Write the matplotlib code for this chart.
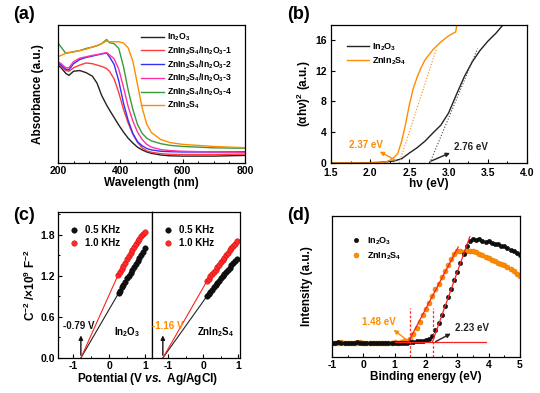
import numpy as np
import matplotlib
matplotlib.use("Agg")
import matplotlib.pyplot as plt
from matplotlib.ticker import MultipleLocator

plt.rcParams['font.family'] = ['Liberation Sans', 'DejaVu Sans']
plt.rcParams['font.weight'] = 'bold'
plt.rcParams['axes.labelweight'] = 'bold'
plt.rcParams['axes.unicode_minus'] = False
plt.rcParams['mathtext.fontset'] = 'custom'
plt.rcParams['mathtext.rm'] = 'Liberation Sans:bold'
plt.rcParams['mathtext.it'] = 'Liberation Sans:italic:bold'
plt.rcParams['mathtext.bf'] = 'Liberation Sans:bold'
plt.rcParams['mathtext.default'] = 'rm'

ORANGE = '#ff8c00'

# (a) UV-vis absorbance (arbitrary units)
wl = [200, 210, 225, 235, 250, 270, 290, 310, 325, 340, 356, 365, 380, 395,
      410, 425, 440, 455, 470, 485, 500, 530, 560, 600, 700, 800]
abs_in2o3 = [0.71, 0.69, 0.65, 0.635, 0.665, 0.67, 0.655, 0.63, 0.58, 0.49, 0.42, 0.385, 0.33, 0.275,
             0.225, 0.18, 0.145, 0.115, 0.095, 0.08, 0.07, 0.058, 0.052, 0.05, 0.05, 0.055]
abs_c1 = [0.72, 0.70, 0.67, 0.665, 0.69, 0.71, 0.725, 0.72, 0.71, 0.70, 0.685, 0.665, 0.61, 0.51,
          0.39, 0.29, 0.21, 0.15, 0.11, 0.088, 0.078, 0.068, 0.063, 0.062, 0.062, 0.065]
abs_c2 = [0.725, 0.71, 0.68, 0.675, 0.72, 0.75, 0.765, 0.775, 0.783, 0.79, 0.797, 0.77, 0.715, 0.595,
          0.435, 0.31, 0.215, 0.155, 0.125, 0.105, 0.095, 0.085, 0.082, 0.08, 0.08, 0.082]
abs_c3 = [0.735, 0.72, 0.69, 0.69, 0.735, 0.76, 0.77, 0.78, 0.785, 0.793, 0.80, 0.785, 0.755, 0.68,
          0.55, 0.41, 0.305, 0.225, 0.17, 0.135, 0.115, 0.097, 0.09, 0.085, 0.08, 0.078]
abs_c4 = [0.87, 0.84, 0.795, 0.80, 0.807, 0.815, 0.83, 0.84, 0.85, 0.865, 0.895, 0.872, 0.865, 0.83,
          0.70, 0.53, 0.39, 0.28, 0.215, 0.18, 0.16, 0.14, 0.128, 0.12, 0.11, 0.107]
abs_zis = [0.77, 0.78, 0.795, 0.80, 0.805, 0.815, 0.825, 0.84, 0.85, 0.865, 0.885, 0.879, 0.879, 0.879,
           0.87, 0.835, 0.74, 0.57, 0.40, 0.28, 0.22, 0.17, 0.148, 0.135, 0.12, 0.111]
labels_a = ['In$_2$O$_3$', 'ZnIn$_2$S$_4$/In$_2$O$_3$-1', 'ZnIn$_2$S$_4$/In$_2$O$_3$-2',
            'ZnIn$_2$S$_4$/In$_2$O$_3$-3', 'ZnIn$_2$S$_4$/In$_2$O$_3$-4', 'ZnIn$_2$S$_4$']
colors_a = ['#222222', '#ff3b3b', '#3030ff', '#ff30a0', '#3a9a3a', ORANGE]

# (b) Tauc plot
e_in2o3 = [1.5, 1.7, 1.9, 2.1, 2.2, 2.3, 2.4, 2.5, 2.6, 2.7, 2.8, 2.9, 3.0, 3.1, 3.2, 3.3, 3.4, 3.5, 3.6, 3.7]
t_in2o3 = [0.0, 0.0, 0.02, 0.08, 0.15, 0.25, 0.55, 1.3, 2.0, 2.85, 3.9, 4.9, 6.5, 8.9, 11.2, 13.1, 14.6, 15.8, 16.8, 18.0]
e_zis = [1.5, 1.7, 1.9, 2.1, 2.15, 2.2, 2.25, 2.3, 2.35, 2.4, 2.45, 2.5, 2.55, 2.6, 2.65, 2.7, 2.8, 2.9, 3.0, 3.07, 3.09, 3.11]
t_zis = [0.0, 0.0, 0.0, 0.02, 0.06, 0.15, 0.35, 0.7, 1.2, 2.8, 5.0, 7.6, 9.7, 11.2, 12.4, 13.4, 14.7, 15.7, 16.5, 16.9, 17.0, 18.3]
gap_in2o3 = 2.76
gap_zis = 2.37
tan_in2o3 = [(2.76, 0.0), (3.37, 14.85)]
tan_zis = [(2.37, 0.0), (2.84, 14.7)]

# (c) Mott-Schottky
v_l_05 = [0.27, 0.30, 0.35, 0.40, 0.45, 0.50, 0.55, 0.60, 0.65, 0.70, 0.75, 0.80, 0.85, 0.90, 0.95, 1.00]
c_l_05 = [0.95, 0.98, 1.03, 1.07, 1.115, 1.16, 1.20, 1.245, 1.29, 1.33, 1.37, 1.41, 1.46, 1.50, 1.55, 1.60]
v_l_10 = [0.25, 0.30, 0.35, 0.40, 0.45, 0.50, 0.55, 0.60, 0.65, 0.70, 0.75, 0.80, 0.85, 0.90, 0.95, 1.00]
c_l_10 = [1.21, 1.255, 1.30, 1.345, 1.39, 1.44, 1.485, 1.53, 1.575, 1.62, 1.665, 1.70, 1.74, 1.78, 1.81, 1.84]
v_r = [0.10, 0.15, 0.20, 0.25, 0.30, 0.35, 0.40, 0.45, 0.50, 0.55, 0.60, 0.65, 0.70, 0.75, 0.80, 0.85, 0.90, 0.95]
c_r_05 = [0.90, 0.935, 0.965, 0.995, 1.03, 1.06, 1.095, 1.125, 1.16, 1.19, 1.225, 1.255, 1.29, 1.32, 1.355, 1.385, 1.42, 1.45]
c_r_10 = [1.12, 1.155, 1.19, 1.225, 1.26, 1.29, 1.325, 1.36, 1.395, 1.43, 1.465, 1.50, 1.535, 1.57, 1.605, 1.635, 1.67, 1.70]
fb_in2o3 = -0.79
fb_zis = -1.16

# (d) VB-XPS
be = np.round(np.arange(-1.0, 5.01, 0.1), 1)
xps_in2o3 = [0.10, 0.10, 0.105, 0.10, 0.10, 0.10, 0.10, 0.10, 0.105, 0.10, 0.10, 0.10,
             0.10, 0.10, 0.10, 0.10, 0.10, 0.10, 0.10, 0.10, 0.10, 0.10, 0.10, 0.10,
             0.10, 0.105, 0.105, 0.11, 0.11, 0.115, 0.12, 0.13, 0.15, 0.19, 0.24, 0.30,
             0.36, 0.425, 0.485, 0.545, 0.605, 0.67, 0.73, 0.79, 0.825, 0.835, 0.83, 0.835,
             0.82, 0.815, 0.825, 0.81, 0.80, 0.80, 0.79, 0.785, 0.775, 0.76, 0.75, 0.735, 0.725]
xps_zis = [0.10, 0.10, 0.10, 0.105, 0.10, 0.10, 0.10, 0.10, 0.10, 0.105, 0.10, 0.10,
           0.10, 0.10, 0.10, 0.10, 0.10, 0.10, 0.10, 0.10, 0.105, 0.10, 0.105, 0.11,
           0.115, 0.13, 0.165, 0.205, 0.25, 0.295, 0.34, 0.385, 0.43, 0.48, 0.52, 0.565,
           0.61, 0.65, 0.695, 0.73, 0.755, 0.75, 0.745, 0.75, 0.755, 0.75, 0.745, 0.73,
           0.72, 0.71, 0.70, 0.69, 0.68, 0.67, 0.66, 0.65, 0.635, 0.625, 0.61, 0.59, 0.575]
vb_in2o3 = 2.23
vb_zis = 1.48
fit_in2o3 = [(2.21, 0.11), (3.40, 0.853)]
fit_zis = [(1.42, 0.10), (3.03, 0.78)]
base_y = 0.105


def style(ax, fs=7.5):
    for s in ax.spines.values():
        s.set_linewidth(0.9)
    ax.tick_params(direction='in', which='major', length=3, width=0.8, labelsize=fs, pad=2)
    ax.tick_params(direction='in', which='minor', length=1.6, width=0.7)


fig = plt.figure(figsize=(5.4, 3.93), dpi=100)

# ---- (a)
ax = fig.add_axes([0.1074, 0.5852, 0.3463, 0.3511])
for y, lab, c in zip([abs_in2o3, abs_c1, abs_c2, abs_c3, abs_c4, abs_zis], labels_a, colors_a):
    ax.plot(wl, y, color=c, lw=1.0, label=lab)
ax.set_xlim(200, 800)
ax.set_ylim(0, 1)
ax.set_yticks([])
ax.xaxis.set_minor_locator(MultipleLocator(50))
style(ax)
ax.set_xlabel('Wavelength (nm)', fontsize=8.5, labelpad=1)
ax.set_ylabel('Absorbance (a.u.)', fontsize=8.5, labelpad=10)
ax.legend(loc='upper right', frameon=False, fontsize=6.2, handlelength=2.6, handletextpad=0.4,
          labelspacing=0.15, bbox_to_anchor=(0.96, 0.99), borderaxespad=0.2)

# ---- (b)
ax = fig.add_axes([0.6130, 0.5852, 0.3630, 0.3511])
ax.plot(e_in2o3, t_in2o3, color='#222222', lw=1.0, label='In$_2$O$_3$')
ax.plot(e_zis, t_zis, color=ORANGE, lw=1.0, label='ZnIn$_2$S$_4$')
ax.plot(*zip(*tan_in2o3), color='#444444', lw=0.8, ls=':')
ax.plot(*zip(*tan_zis), color=ORANGE, lw=0.8, ls=':')
ax.set_xlim(1.5, 4.0)
ax.set_ylim(0, 17.9)
ax.set_yticks([0, 4, 8, 12, 16])
ax.xaxis.set_minor_locator(MultipleLocator(0.25))
style(ax)
ax.tick_params(axis='x', pad=3.5)
ax.tick_params(axis='y', pad=3)
ax.set_xlabel('hν (eV)', fontsize=8.5, labelpad=0)
ax.set_ylabel('(αhν)$^2$ (a.u.)', fontsize=8.5, labelpad=2)
ax.legend(loc='upper left', frameon=False, fontsize=6.5, handlelength=2.4, handletextpad=0.4,
          labelspacing=0.3, bbox_to_anchor=(0.04, 0.94))
ax.annotate('', xy=(2.09, 1.65), xytext=(gap_zis - 0.02, 0.2),
            arrowprops=dict(arrowstyle='-|>', color=ORANGE, lw=1.0, mutation_scale=6))
ax.text(1.95, 2.4, f'{gap_zis:.2f} eV', color=ORANGE, fontsize=7, ha='center', va='center')
ax.annotate('', xy=(3.05, 1.45), xytext=(gap_in2o3 - 0.02, 0.1),
            arrowprops=dict(arrowstyle='-|>', color='#222222', lw=1.0, mutation_scale=6))
ax.text(3.28, 2.1, f'{gap_in2o3:.2f} eV', color='#222222', fontsize=7, ha='center', va='center')

# ---- (c)
axl = fig.add_axes([0.1074, 0.0891, 0.1741, 0.3715])
axr = fig.add_axes([0.2815, 0.0891, 0.1630, 0.3715])
for a, v05, c05, v10, c10, fb in [(axl, v_l_05, c_l_05, v_l_10, c_l_10, fb_in2o3),
                                  (axr, v_r, c_r_05, v_r, c_r_10, fb_zis)]:
    a.plot([fb, v05[0]], [0, c05[0]], color='#222222', lw=0.8)
    a.plot([fb, v10[0]], [0, c10[0]], color='#ff2020', lw=0.8)
    a.plot(v05, c05, 'o', color='#111111', mec='#000000', mew=0.3, ms=4, label='0.5 KHz')
    a.plot(v10, c10, 'o', color='#ff2a2a', mec='#cc0000', mew=0.3, ms=4, label='1.0 KHz')
    a.annotate('', xy=(fb, 0.37), xytext=(fb, 0.0),
               arrowprops=dict(arrowstyle='-|>', color='#111111', lw=1.0, mutation_scale=6))
    a.set_ylim(0, 2.13)
    a.set_xticks([-1, 0, 1])
    a.xaxis.set_minor_locator(MultipleLocator(0.5))
    style(a)
    a.legend(loc='upper left', frameon=False, fontsize=7, handlelength=1.0, handletextpad=0.6,
             labelspacing=0.3, bbox_to_anchor=(0.03, 0.97))
axl.set_xlim(-1.43, 1.2)
axr.set_xlim(-1.47, 1.05)
axl.set_yticks([0.0, 0.6, 1.2, 1.8])
axl.set_yticklabels(['0.0', '0.6', '1.2', '1.8'])
axl.yaxis.set_minor_locator(MultipleLocator(0.3))
axr.tick_params(which='both', left=False, labelleft=False)
axl.set_ylabel('C$^{-2}$ /×10$^9$ F$^{-2}$', fontsize=8.5, labelpad=2)
axl.text(-0.85, 0.46, f'{fb_in2o3:.2f} V', color='#111111', fontsize=7, ha='center', va='center')
axr.text(-1.02, 0.46, f'{fb_zis:.2f} V', color=ORANGE, fontsize=7, ha='center', va='center')
axl.text(0.49, 0.38, 'In$_2$O$_3$', fontsize=7, ha='center', va='center')
axr.text(0.36, 0.38, 'ZnIn$_2$S$_4$', fontsize=7, ha='center', va='center')
fig.text(0.274, 0.036, 'Potential (V $\\mathit{vs.}$ Ag/AgCl)', fontsize=8.5, ha='center', va='center')

# ---- (d)
ax = fig.add_axes([0.6148, 0.0916, 0.3481, 0.3588])
ax.plot(be, xps_zis, 'o', color=ORANGE, mec='#e07800', mew=0.4, ms=3.6, label='ZnIn$_2$S$_4$', zorder=2)
ax.plot(be, xps_in2o3, 'o', color='#111111', mec='#000000', mew=0.3, ms=3.2, label='In$_2$O$_3$', zorder=3)
ax.plot([1.0, 3.9], [base_y, base_y], color='#ff2020', lw=0.9, zorder=4)
ax.plot(*zip(*fit_zis), color='#ff2020', lw=0.9, zorder=4)
ax.plot(*zip(*fit_in2o3), color='#ff2020', lw=0.9, zorder=4)
ax.plot([vb_zis, vb_zis], [0, 0.35], color='#ff2020', lw=0.9, ls=(0, (2, 1.5)), zorder=4)
ax.plot([vb_in2o3, vb_in2o3], [0, 0.35], color='#ff2020', lw=0.9, ls=(0, (2, 1.5)), zorder=4)
ax.annotate('', xy=(0.9, 0.205), xytext=(vb_zis, 0.105),
            arrowprops=dict(arrowstyle='-|>', color=ORANGE, lw=1.0, mutation_scale=6), zorder=5)
ax.text(0.5, 0.25, f'{vb_zis:.2f} eV', color=ORANGE, fontsize=7, ha='center', va='center')
ax.annotate('', xy=(2.87, 0.175), xytext=(vb_in2o3, 0.1),
            arrowprops=dict(arrowstyle='-|>', color='#222222', lw=1.0, mutation_scale=6), zorder=5)
ax.text(3.46, 0.205, f'{vb_in2o3:.2f} eV', color='#222222', fontsize=7, ha='center', va='center')
ax.set_xlim(-1, 5)
ax.set_ylim(0, 1)
ax.set_yticks([])
ax.xaxis.set_minor_locator(MultipleLocator(0.5))
style(ax)
ax.set_xlabel('Binding energy (eV)', fontsize=8.5, labelpad=1)
ax.set_ylabel('Intensity (a.u.)', fontsize=8.5, labelpad=14)
h, l = ax.get_legend_handles_labels()
ax.legend(h[::-1], l[::-1], loc='upper left', frameon=False, fontsize=6.5, handlelength=1.0,
          handletextpad=0.7, labelspacing=0.4, bbox_to_anchor=(0.06, 0.92))

# panel labels
for x, y, t in [(0.024, 0.962, '(a)'), (0.532, 0.962, '(b)'), (0.024, 0.452, '(c)'), (0.532, 0.452, '(d)')]:
    fig.text(x, y, t, fontsize=13, fontweight='bold', va='center')

fig.savefig('out.png', dpi=100)
